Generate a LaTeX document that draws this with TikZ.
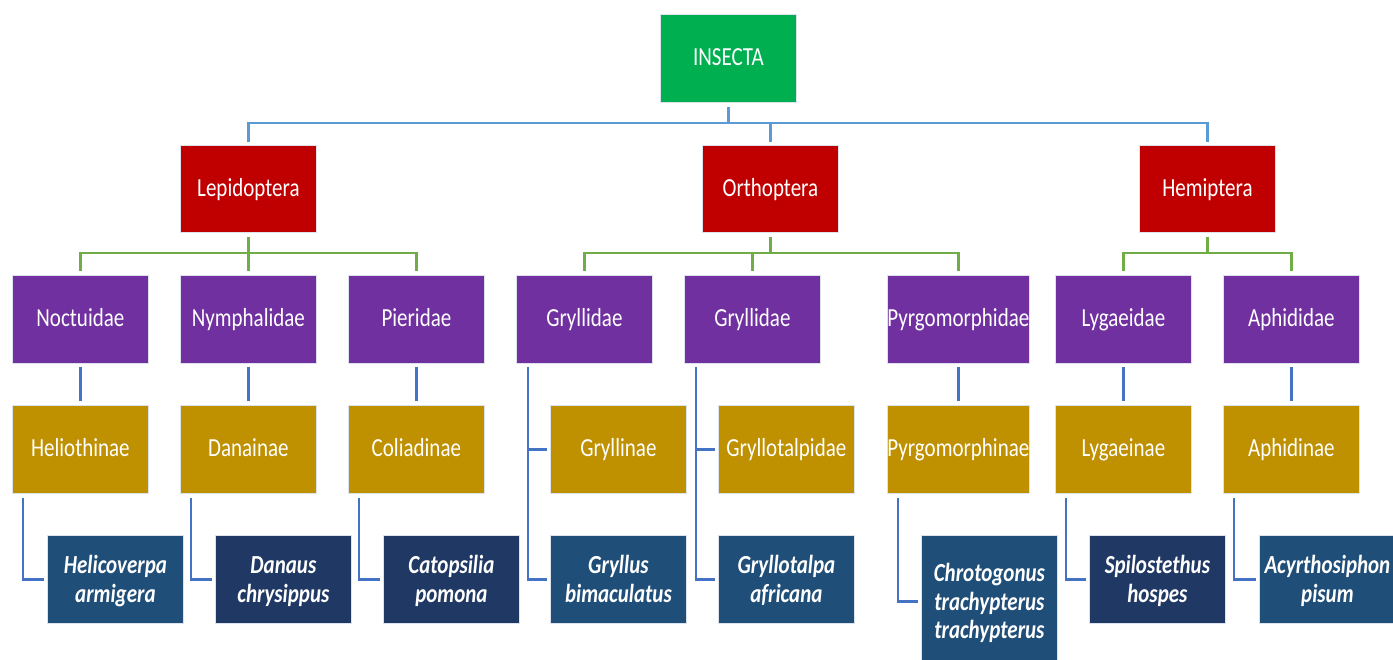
\documentclass[tikz,border=0pt]{standalone}
\usepackage{fontspec}
\setmainfont{Carlito}
\usepackage{graphicx}
\newcommand{\vst}[1]{\raisebox{-1.5pt}[\height][\depth]{\scalebox{1}[1.24]{\strut#1}}}
\newcommand{\vsl}[1]{\raisebox{-3pt}[\height][\depth]{\scalebox{1}[1.24]{\begin{tabular}{@{}c@{}}#1\end{tabular}}}}
\definecolor{cGreen}{HTML}{00B050}
\definecolor{cRed}{HTML}{C00000}
\definecolor{cPurple}{HTML}{7030A0}
\definecolor{cGold}{HTML}{BF9000}
\definecolor{cNavyA}{HTML}{1F4E79}
\definecolor{cNavyB}{HTML}{203864}
\definecolor{cTopLine}{HTML}{5B9BD5}
\definecolor{cGreenLine}{HTML}{70AD47}
\definecolor{cLowLine}{HTML}{4472C4}
\definecolor{cEdge}{HTML}{DDE3EC}
\tikzset{
  x=1pt, y=-1pt,
  box/.style={draw=cEdge, line width=0.8pt, minimum width=136pt, minimum height=88pt,
    inner sep=0pt, text=white, anchor=north west, font=\fontsize{21}{23}\selectfont},
  kingdom/.style={box, fill=cGreen},
  order/.style={box, fill=cRed, minimum height=87pt},
  family/.style={box, fill=cPurple},
  subfam/.style={box, fill=cGold},
  speciesA/.style={box, fill=cNavyA, font=\fontsize{21}{23}\selectfont\bfseries\itshape},
  speciesB/.style={box, fill=cNavyB, font=\fontsize{21}{23}\selectfont\bfseries\itshape},
  topline/.style={draw=cTopLine, line width=2.4pt},
  greenline/.style={draw=cGreenLine, line width=2.6pt},
  lowline/.style={draw=cLowLine, line width=2.6pt},
}
\begin{document}
\begin{tikzpicture}
\useasboundingbox (0,0) rectangle (1393,660);
\clip (0,0) rectangle (1393,660);
\fill[white] (0,0) rectangle (1393,660);

% level 1
\node[kingdom] (insecta) at (660,14) {\vst{INSECTA}};
% level 2
\node[order] (lepi)  at (180,145)  {\vst{Lepidoptera}};
\node[order] (ortho) at (702,145)  {\vst{Orthoptera}};
\node[order] (hemi)  at (1139,145) {\vst{Hemiptera}};
% level 3
\node[family] (noct)  at (12,275)   {\vst{Noctuidae}};
\node[family] (nymph) at (180,275)  {\vst{Nymphalidae}};
\node[family] (pier)  at (348,275)  {\vst{Pieridae}};
\node[family] (gryA)  at (516,275)  {\vst{Gryllidae}};
\node[family] (gryB)  at (684,275)  {\vst{Gryllidae}};
\node[family] (pyrg)  at (887,275)  {\vst{Pyrgomorphidae}};
\node[family] (lyga)  at (1055,275) {\vst{Lygaeidae}};
\node[family] (aphi)  at (1223,275) {\vst{Aphididae}};
% level 4
\node[subfam] (helio) at (12,405)   {\vst{Heliothinae}};
\node[subfam] (dana)  at (180,405)  {\vst{Danainae}};
\node[subfam] (colia) at (348,405)  {\vst{Coliadinae}};
\node[subfam] (gryl)  at (550,405)  {\vst{Gryllinae}};
\node[subfam] (grta)  at (718,405)  {\vst{Gryllotalpidae}};
\node[subfam] (pyrn)  at (887,405)  {\vst{Pyrgomorphinae}};
\node[subfam] (lygn)  at (1055,405) {\vst{Lygaeinae}};
\node[subfam] (aphn)  at (1223,405) {\vst{Aphidinae}};
% level 5
\node[speciesA] (helicov) at (47,535)   {\vsl{Helicoverpa\\armigera}};
\node[speciesB] (danaus)  at (215,535)  {\vsl{Danaus\\chrysippus}};
\node[speciesB] (catop)   at (383,535)  {\vsl{Catopsilia\\pomona}};
\node[speciesA] (gryllus) at (550,535)  {\vsl{Gryllus\\bimaculatus}};
\node[speciesA] (grtalpa) at (718,535)  {\vsl{Gryllotalpa\\africana}};
\node[speciesA, minimum height=132pt] (chroto) at (921,535) {\vsl{Chrotogonus\\trachypterus\\trachypterus}};
\node[speciesB] (spilo)   at (1089,535) {\vsl{Spilostethus\\hospes}};
\node[speciesA] (acyr)    at (1259,535) {\vsl{Acyrthosiphon\\pisum}};

% top connectors
\coordinate (busA) at (0,123);
\draw[topline] ([yshift=-4pt]insecta.south) -- (insecta.south |- busA);
\draw[topline] ([yshift=3pt]lepi.north) -- (lepi.north |- busA) -- (hemi.north |- busA) -- ([yshift=3pt]hemi.north);
\draw[topline] ([yshift=3pt]ortho.north) -- (ortho.north |- busA);

% order -> family connectors
\coordinate (busB) at (0,253);
\draw[greenline] ([yshift=-4pt]lepi.south) -- (lepi.south |- busB);
\draw[greenline] ([yshift=4pt]noct.north) -- (noct.north |- busB) -- (pier.north |- busB) -- ([yshift=4pt]pier.north);
\draw[greenline] ([yshift=4pt]nymph.north) -- (nymph.north |- busB);
\draw[greenline] ([yshift=-4pt]ortho.south) -- (ortho.south |- busB);
\draw[greenline] ([yshift=4pt]gryA.north) -- (gryA.north |- busB) -- (pyrg.north |- busB) -- ([yshift=4pt]pyrg.north);
\draw[greenline] ([yshift=4pt]gryB.north) -- (gryB.north |- busB);
\draw[greenline] ([yshift=-4pt]hemi.south) -- (hemi.south |- busB);
\draw[greenline] ([yshift=4pt]lyga.north) -- (lyga.north |- busB) -- (aphi.north |- busB) -- ([yshift=4pt]aphi.north);

% family -> subfamily
\foreach \f/\s in {noct/helio, nymph/dana, pier/colia, pyrg/pyrn, lyga/lygn, aphi/aphn}{
  \draw[lowline] ([yshift=-3pt]\f.south) -- ([yshift=4pt]\s.north);
}
% subfamily -> species elbows
\foreach \s/\p in {helio/helicov, dana/danaus, colia/catop, pyrn/chroto, lygn/spilo, aphn/acyr}{
  \draw[lowline] ([xshift=11pt,yshift=-4pt]\s.south west) |- ([xshift=-3pt]\p.west);
}
% Gryllidae branches
\coordinate (gAx) at ([xshift=12pt,yshift=-3pt]gryA.south west);
\coordinate (gBx) at ([xshift=12pt,yshift=-3pt]gryB.south west);
\draw[lowline] (gAx) |- ([xshift=-3pt]gryllus.west);
\draw[lowline] (gAx |- gryl.west) -- ([xshift=-3pt]gryl.west);
\draw[lowline] (gBx) |- ([xshift=-3pt]grtalpa.west);
\draw[lowline] (gBx |- grta.west) -- ([xshift=-3pt]grta.west);
\end{tikzpicture}
\end{document}
